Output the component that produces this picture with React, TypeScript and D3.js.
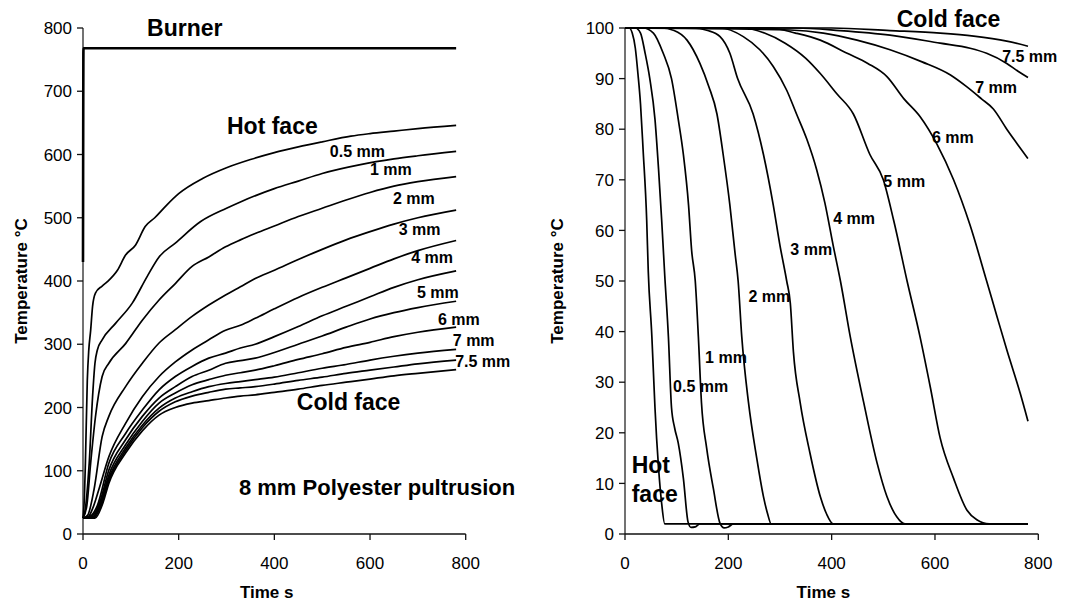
import React from "react";
import * as d3 from "d3";

const FONT = "'Liberation Sans', Arial, Helvetica, sans-serif";

type Pt = [number, number];

// ---------- shared ticks ----------
const xTickValues = [0, 200, 400, 600, 800];
const leftYTickValues = [0, 100, 200, 300, 400, 500, 600, 700, 800];
const rightYTickValues = [0, 10, 20, 30, 40, 50, 60, 70, 80, 90, 100];

// ---------- left panel: temperature (°C) vs time (s) ----------
const burner: Pt[] = [[0, 430], [1, 768], [780, 768]];
const leftHotFace: Pt[] = [[0, 25], [3, 60], [5, 112], [9, 243], [12, 290], [16, 322], [20, 360], [26, 381], [40, 392], [51, 399], [72, 417], [89, 441], [110, 457], [130, 486], [150, 500], [175, 520], [200, 538], [250, 562], [300, 579], [350, 592], [400, 603], [450, 612], [500, 620], [560, 629], [600, 633], [650, 637], [700, 641], [780, 646]];
const left05: Pt[] = [[0, 25], [5, 40], [10, 80], [13, 112], [20, 217], [25, 270], [30, 291], [40, 307], [68, 333], [103, 365], [134, 407], [159, 438], [193, 460], [246, 494], [300, 515], [329, 525], [400, 546], [450, 558], [500, 570], [580, 584], [650, 593], [700, 598], [780, 605]];
const left1: Pt[] = [[0, 25], [8, 45], [16, 112], [26, 185], [40, 249], [54, 270], [89, 301], [124, 338], [159, 370], [193, 396], [228, 423], [263, 438], [298, 454], [329, 465], [360, 475], [400, 487], [450, 502], [500, 515], [550, 528], [600, 540], [650, 550], [700, 557], [780, 565]];
const left2: Pt[] = [[0, 25], [10, 30], [23, 70], [40, 154], [54, 186], [89, 233], [124, 270], [159, 302], [193, 323], [228, 344], [263, 362], [298, 378], [329, 391], [360, 404], [400, 417], [450, 434], [500, 450], [550, 465], [600, 478], [650, 490], [700, 500], [780, 512]];
const left3: Pt[] = [[0, 25], [12, 28], [20, 40], [33, 70], [54, 122], [89, 175], [124, 217], [159, 249], [193, 272], [228, 291], [263, 307], [298, 322], [329, 330], [360, 341], [400, 356], [450, 374], [500, 390], [550, 405], [600, 420], [650, 435], [700, 448], [780, 464]];
const left4: Pt[] = [[0, 25], [15, 28], [30, 45], [54, 112], [89, 159], [124, 196], [159, 228], [193, 249], [228, 265], [263, 278], [298, 286], [329, 294], [360, 300], [400, 312], [450, 328], [500, 345], [550, 360], [600, 375], [650, 390], [700, 402], [780, 416]];
const left5: Pt[] = [[0, 25], [18, 28], [35, 50], [54, 101], [89, 149], [124, 186], [159, 215], [193, 233], [228, 249], [263, 259], [298, 270], [329, 274], [360, 278], [400, 287], [450, 300], [500, 313], [550, 327], [600, 340], [650, 350], [700, 358], [780, 368]];
const left6: Pt[] = [[0, 25], [20, 27], [37, 50], [54, 93], [89, 141], [124, 178], [159, 207], [193, 223], [228, 236], [263, 244], [298, 251], [329, 255], [360, 259], [400, 266], [450, 276], [500, 285], [550, 295], [600, 303], [650, 312], [700, 319], [780, 327]];
const left7: Pt[] = [[0, 25], [22, 27], [38, 50], [54, 88], [89, 136], [124, 172], [159, 199], [193, 215], [228, 225], [263, 233], [298, 238], [329, 241], [360, 244], [400, 248], [450, 255], [500, 262], [550, 268], [600, 275], [650, 281], [700, 286], [780, 292]];
const left75: Pt[] = [[0, 25], [23, 26], [40, 50], [54, 84], [89, 132], [124, 168], [159, 194], [193, 209], [228, 218], [263, 224], [298, 229], [329, 231], [360, 233], [400, 237], [450, 243], [500, 248], [550, 254], [600, 259], [650, 264], [700, 269], [780, 275]];
const leftColdFace: Pt[] = [[0, 25], [25, 25], [42, 50], [54, 80], [89, 128], [124, 163], [159, 188], [193, 200], [228, 207], [263, 211], [298, 215], [329, 218], [360, 220], [400, 224], [450, 229], [500, 235], [550, 240], [600, 245], [650, 250], [700, 254], [780, 260]];

// ---------- right panel: normalised temperature vs time (s) ----------
const rightHotFace: Pt[] = [[0, 100], [8, 100], [14, 99], [20, 96], [25, 91], [30, 85], [35, 76], [42, 62], [45, 52], [52, 39], [55, 32], [58, 25], [65, 13], [71, 6], [77, 2], [780, 2]];
const right05: Pt[] = [[0, 100], [20, 100], [30, 99], [39, 95], [48, 90], [58, 82], [65, 72], [71, 62], [77, 51], [84, 39], [90, 25], [96, 21], [103, 18], [113, 11], [122, 2.4], [128, 1.3], [136, 1.4], [145, 2], [780, 2]];
const right1: Pt[] = [[0, 100], [35, 100], [55, 99], [74, 95], [90, 90], [103, 82], [113, 75], [123, 65], [129, 56], [136, 50], [142, 39], [148, 26], [158, 17], [171, 9], [184, 2.1], [192, 1.2], [200, 1.4], [210, 2], [780, 2]];
const right2: Pt[] = [[0, 100], [70, 100], [95, 99.5], [120, 97.6], [145, 93], [162, 88.5], [178, 83], [190, 75], [203, 65], [213, 55.5], [219, 50], [226, 39], [239, 26], [255, 15], [268, 7.4], [276, 4], [283, 2], [780, 2]];
const right3: Pt[] = [[0, 100], [130, 100], [160, 99.5], [184, 98.3], [203, 95], [218, 90], [248, 83], [268, 75], [287, 65], [300, 57], [313, 50], [320, 45.6], [326, 36], [339, 26], [358, 16], [378, 7.4], [390, 4], [403, 2], [780, 2]];
const right4: Pt[] = [[0, 100], [184, 100], [229, 98.3], [261, 95.7], [287, 92.4], [313, 87.7], [332, 83], [352, 78], [371, 72], [387, 65.4], [403, 57], [417, 50], [436, 39], [462, 26], [488, 14], [507, 7.4], [526, 3.4], [542, 2], [780, 2]];
const right5: Pt[] = [[0, 100], [230, 100], [270, 99], [310, 97], [350, 94], [378, 91], [410, 87], [442, 83], [474, 75], [500, 70], [520, 62], [546, 50], [571, 39], [591, 29], [610, 19], [636, 11], [662, 4.7], [681, 2.8], [705, 2], [780, 2]];
const right6: Pt[] = [[0, 100], [280, 100], [330, 99], [378, 97.6], [430, 95], [470, 93], [507, 90.4], [540, 86], [571, 82.5], [604, 77], [636, 70], [668, 61], [700, 50], [720, 43], [739, 36.4], [765, 27.8], [780, 22.3]];
const right7: Pt[] = [[0, 100], [320, 99.6], [384, 99], [449, 97.6], [513, 95.7], [575, 93.3], [630, 90.7], [660, 88.5], [690, 86], [713, 84], [739, 80], [760, 77], [780, 74.2]];
const right75: Pt[] = [[0, 100], [330, 100], [416, 99.5], [513, 98.6], [610, 97], [668, 96], [700, 95], [739, 93], [760, 91.5], [780, 90.2]];
const rightColdFace: Pt[] = [[0, 100], [400, 100], [513, 99.5], [610, 99], [675, 98.4], [739, 97.4], [780, 96.4]];

// ---------- annotations (data coordinates) ----------
type Ann = { text: string; t: number; v: number; size: number };
const leftAnnotations: Ann[] = [
  { text: "Burner", t: 134, v: 787, size: 23 },
  { text: "Hot face", t: 301, v: 632, size: 23 },
  { text: "0.5 mm", t: 516, v: 596, size: 16 },
  { text: "1 mm", t: 600, v: 567, size: 16 },
  { text: "2 mm", t: 648, v: 522, size: 16 },
  { text: "3 mm", t: 660, v: 473, size: 16 },
  { text: "4 mm", t: 686, v: 428, size: 16 },
  { text: "5 mm", t: 698, v: 373, size: 16 },
  { text: "6 mm", t: 742, v: 330, size: 16 },
  { text: "7 mm", t: 773, v: 298, size: 16 },
  { text: "7.5 mm", t: 778, v: 264, size: 16 },
  { text: "Cold face", t: 447, v: 196, size: 23 },
  { text: "8 mm Polyester pultrusion", t: 326, v: 62, size: 22 },
];
const rightAnnotations: Ann[] = [
  { text: "Cold face", t: 526, v: 100.2, size: 23 },
  { text: "7.5 mm", t: 730, v: 93.3, size: 16 },
  { text: "7 mm", t: 678, v: 87.1, size: 16 },
  { text: "6 mm", t: 594, v: 77.3, size: 16 },
  { text: "5 mm", t: 500, v: 68.6, size: 16 },
  { text: "4 mm", t: 403, v: 61.3, size: 16 },
  { text: "3 mm", t: 320, v: 55.1, size: 16 },
  { text: "2 mm", t: 239, v: 45.9, size: 16 },
  { text: "1 mm", t: 155, v: 33.7, size: 16 },
  { text: "0.5 mm", t: 93, v: 28.1, size: 16 },
  { text: "Hot", t: 13, v: 12, size: 23 },
  { text: "face", t: 13, v: 6.4, size: 23 },
];

const leftSeries = [leftHotFace, left05, left1, left2, left3, left4, left5, left6, left7, left75, leftColdFace];
const rightSeries = [rightHotFace, right05, right1, right2, right3, right4, right5, right6, right7, right75, rightColdFace];

type PanelProps = {
  x0: number;
  x1: number;
  yTop: number;
  yBottom: number;
  yMax: number;
  yTicks: number[];
  series: Pt[][];
  thick?: Pt[];
  annotations: Ann[];
  titleX: number;
};

function Panel({ x0, x1, yTop, yBottom, yMax, yTicks, series, thick, annotations, titleX }: PanelProps) {
  const x = d3.scaleLinear().domain([0, 800]).range([x0, x1]);
  const y = d3.scaleLinear().domain([0, yMax]).range([yBottom, yTop]);
  const line = d3
    .line<Pt>()
    .x((d) => x(d[0]))
    .y((d) => y(d[1]))
    .curve(d3.curveMonotoneX);
  const midY = 281;
  return (
    <g>
      {/* axes */}
      <line x1={x0} x2={x0} y1={yTop} y2={yBottom} stroke="#444" strokeWidth={1.5} />
      <line x1={x0} x2={x1} y1={yBottom} y2={yBottom} stroke="#111" strokeWidth={1.5} />
      {yTicks.map((t) => (
        <g key={"y" + t}>
          <line x1={x0 - 6} x2={x0} y1={y(t)} y2={y(t)} stroke="#111" strokeWidth={1.3} />
          <text
            x={x0 - 11}
            y={y(t)}
            dy="0.36em"
            textAnchor="end"
            fontFamily={FONT}
            fontSize={17}
            fill="#000"
          >
            {t}
          </text>
        </g>
      ))}
      {xTickValues.map((t) => (
        <g key={"x" + t}>
          <line x1={x(t)} x2={x(t)} y1={yBottom} y2={yBottom + 6} stroke="#111" strokeWidth={1.3} />
          <text x={x(t)} y={569} textAnchor="middle" fontFamily={FONT} fontSize={17} fill="#000">
            {t}
          </text>
        </g>
      ))}
      {/* series */}
      {series.map((s, i) => (
        <path key={i} d={line(s) || ""} fill="none" stroke="#000" strokeWidth={1.7} strokeLinejoin="round" />
      ))}
      {thick && <path d={line(thick) || ""} fill="none" stroke="#000" strokeWidth={2.6} />}
      {/* annotations */}
      {annotations.map((a, i) => (
        <text key={i} x={x(a.t)} y={y(a.v)} fontFamily={FONT} fontWeight="bold" fontSize={a.size} fill="#000">
          {a.text}
        </text>
      ))}
      {/* axis titles */}
      <text
        x={(x0 + x1) / 2 - (x1 - x0) * 0.02}
        y={598}
        textAnchor="middle"
        fontFamily={FONT}
        fontWeight="bold"
        fontSize={17}
      >
        Time s
      </text>
      <text
        transform={`translate(${titleX},${midY}) rotate(-90)`}
        textAnchor="middle"
        fontFamily={FONT}
        fontWeight="bold"
        fontSize={17}
      >
        Temperature °C
      </text>
    </g>
  );
}

export default function App() {
  return (
    <svg
      width={1067}
      height={604}
      style={{ position: "absolute", left: 0, top: 0, background: "#fff" }}
    >
      <rect x={0} y={0} width={1067} height={604} fill="#fff" />
      <Panel
        x0={83}
        x1={465.7}
        yTop={28}
        yBottom={534}
        yMax={800}
        yTicks={leftYTickValues}
        series={leftSeries}
        thick={burner}
        annotations={leftAnnotations}
        titleX={27}
      />
      <Panel
        x0={625}
        x1={1038.3}
        yTop={28}
        yBottom={534}
        yMax={100}
        yTicks={rightYTickValues}
        series={rightSeries}
        annotations={rightAnnotations}
        titleX={563}
      />
    </svg>
  );
}
